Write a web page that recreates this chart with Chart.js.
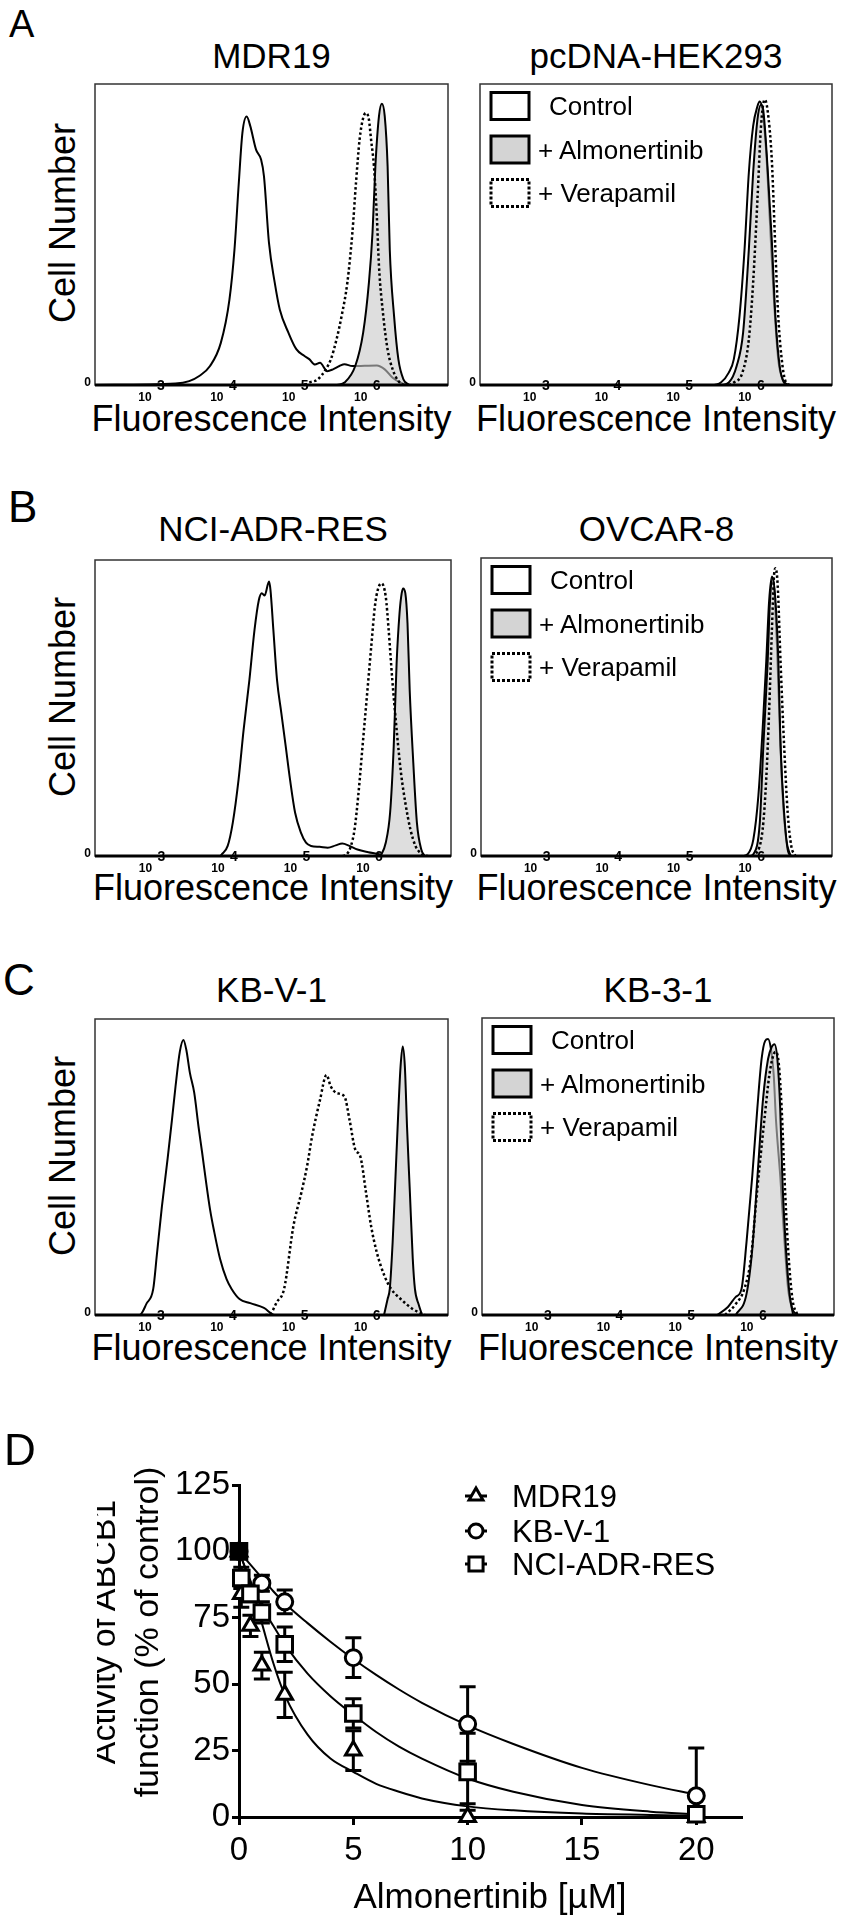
<!DOCTYPE html>
<html>
<head>
<meta charset="utf-8">
<script src="https://cdn.jsdelivr.net/npm/chart.js@4.4.0/dist/chart.umd.min.js"></script>
<style>
  body { margin: 0; background: #fff; }
  #page { position: relative; width: 844px; height: 1920px; overflow: hidden; background: #fff;
          font-family: "Liberation Sans", Arial, Helvetica, sans-serif; color: #000; }
  .txt { position: absolute; white-space: nowrap; line-height: 1; }
  canvas { position: absolute; }
</style>
</head>
<body>
<div id="page"></div>
<script>
// --- Histogram data: x = log10(fluorescence), y = cell number (% of frame height) ---
const mdr19CtrlX = [2.18, 3.30, 3.49, 3.63, 3.78, 3.93, 4.05, 4.12, 4.18, 4.23, 4.29, 4.34, 4.42, 4.49, 4.53, 4.60, 4.68, 4.75, 4.87, 4.98, 5.09, 5.16, 5.24, 5.31, 5.41, 5.49, 5.58, 5.65, 5.76, 6.10, 6.21, 6.32, 6.43, 6.55, 7.09];
const mdr19CtrlY = [0, 0.5, 1.3, 3.0, 6.3, 14.0, 28.4, 45.0, 67.1, 83.7, 89.2, 86.0, 78.2, 74.9, 69.4, 47.2, 34.0, 25.1, 17.4, 11.9, 9.7, 8.6, 6.8, 7.4, 4.6, 5.2, 6.3, 6.9, 6.3, 6.5, 5.2, 2.4, 0.8, 0, 0];
const mdr19AlmX = [5.55, 5.65, 5.80, 5.91, 5.99, 6.04, 6.08, 6.13, 6.17, 6.21, 6.25, 6.28, 6.34, 6.40, 6.47, 6.55];
const mdr19AlmY = [0, 0.8, 6.3, 17.4, 34.0, 50.6, 72.7, 89.3, 93.4, 89.3, 72.7, 45.0, 22.9, 8.5, 1.9, 0];
const mdr19VerX = [5.10, 5.16, 5.28, 5.39, 5.46, 5.54, 5.61, 5.69, 5.76, 5.81, 5.86, 5.91, 5.95, 5.99, 6.02, 6.06, 6.10, 6.13, 6.19, 6.25, 6.32, 6.40, 6.47];
const mdr19VerY = [0, 0.8, 1.9, 5.2, 8.5, 15.2, 22.9, 34.0, 50.6, 67.1, 81.5, 88.7, 90.4, 88.2, 81.5, 72.7, 56.1, 39.5, 22.9, 11.8, 5.2, 1.3, 0];

const hekCtrlX = [5.45, 5.54, 5.65, 5.72, 5.80, 5.87, 5.93, 5.99, 6.05, 6.08, 6.12, 6.17, 6.22, 6.28, 6.34, 6.40, 6.47];
const hekCtrlY = [0, 0.8, 4.1, 8.5, 22.9, 45.0, 70.5, 86.0, 92.6, 94.2, 91.5, 78.2, 56.1, 28.4, 8.5, 1.9, 0];
const hekAlmX = [5.55, 5.65, 5.76, 5.85, 5.93, 5.99, 6.05, 6.10, 6.13, 6.19, 6.25, 6.30, 6.36, 6.42, 6.47];
const hekAlmY = [0, 0.8, 6.3, 17.4, 45.0, 70.5, 88.2, 93.1, 91.5, 72.7, 48.3, 22.9, 6.3, 0.8, 0];
const hekVerX = [5.65, 5.72, 5.84, 5.93, 5.99, 6.05, 6.10, 6.15, 6.19, 6.25, 6.30, 6.34, 6.40, 6.45, 6.51];
const hekVerY = [0, 0.8, 4.1, 15.2, 34.0, 61.6, 86.0, 94.8, 91.5, 74.9, 45.0, 22.9, 6.3, 0.8, 0];

const nciCtrlX = [2.18, 3.90, 3.93, 4.01, 4.08, 4.16, 4.23, 4.31, 4.38, 4.44, 4.48, 4.52, 4.58, 4.60, 4.64, 4.69, 4.75, 4.81, 4.87, 4.94, 5.02, 5.09, 5.16, 5.28, 5.39, 5.50, 5.59, 5.69, 5.80, 5.95, 6.10, 6.17, 7.09];
const nciCtrlY = [0, 0, 0.6, 3.4, 11.2, 25.8, 42.7, 59.6, 76.4, 86.5, 88.8, 88.0, 92.7, 89.9, 76.4, 59.6, 48.3, 37.1, 25.8, 14.6, 7.9, 4.5, 3.4, 3.1, 2.8, 3.6, 4.2, 3.4, 2.2, 1.3, 0.6, 0, 0];
const nciAlmX = [6.10, 6.13, 6.19, 6.25, 6.30, 6.34, 6.38, 6.41, 6.43, 6.46, 6.49, 6.52, 6.57, 6.62, 6.68, 6.73];
const nciAlmY = [0, 0.6, 4.5, 14.6, 37.1, 65.2, 82.0, 88.8, 90.4, 88.8, 78.7, 56.2, 31.5, 11.2, 2.2, 0];
const nciVerX = [5.60, 5.65, 5.71, 5.76, 5.81, 5.87, 5.93, 5.99, 6.04, 6.08, 6.13, 6.19, 6.23, 6.28, 6.34, 6.40, 6.46, 6.53, 6.60, 6.69, 6.77];
const nciVerY = [0, 0.5, 3.4, 9.0, 20.2, 37.1, 53.9, 70.8, 84.3, 89.9, 92.1, 87.6, 76.4, 59.6, 42.7, 28.1, 18.0, 9.0, 3.4, 0.6, 0];

const ovcCtrlX = [5.85, 5.91, 5.99, 6.06, 6.12, 6.17, 6.21, 6.25, 6.28, 6.32, 6.36, 6.40, 6.45, 6.51];
const ovcCtrlY = [0, 0.6, 5.6, 20.2, 42.7, 65.2, 85.4, 93.8, 89.9, 70.8, 42.7, 20.2, 5.6, 0];
const ovcAlmX = [5.95, 5.99, 6.08, 6.13, 6.19, 6.22, 6.26, 6.30, 6.34, 6.37, 6.42, 6.47, 6.52];
const ovcAlmY = [0, 0.6, 11.2, 37.1, 65.2, 84.3, 93.3, 85.4, 65.2, 37.1, 14.6, 2.2, 0];
const ovcVerX = [5.97, 6.02, 6.12, 6.17, 6.21, 6.25, 6.28, 6.30, 6.33, 6.37, 6.42, 6.47, 6.52, 6.58];
const ovcVerY = [0, 0.6, 9.0, 25.8, 48.3, 76.4, 94.4, 96.6, 91.0, 65.2, 37.1, 14.6, 3.4, 0];

const kbvCtrlX = [2.18, 2.80, 2.90, 2.99, 3.04, 3.11, 3.19, 3.25, 3.30, 3.36, 3.41, 3.45, 3.50, 3.56, 3.62, 3.67, 3.72, 3.78, 3.84, 3.92, 4.01, 4.08, 4.19, 4.34, 4.53, 4.68, 7.09];
const kbvCtrlY = [0, 0, 4.0, 8.8, 20.2, 36.5, 52.8, 65.8, 77.2, 89.0, 92.9, 89.6, 81.8, 75.1, 63.6, 54.9, 45.8, 35.7, 27.9, 18.9, 12.1, 8.8, 5.4, 4.0, 2.4, 0, 0];
const kbvAlmX = [6.20, 6.25, 6.28, 6.32, 6.36, 6.40, 6.43, 6.46, 6.49, 6.52, 6.56, 6.60, 6.63, 6.68, 6.73];
const kbvAlmY = [0, 5.4, 8.8, 24.6, 46.9, 69.4, 83.9, 90.7, 83.9, 63.7, 41.3, 18.9, 8.8, 3.7, 0];
const kbvVerX = [4.55, 4.60, 4.71, 4.81, 4.94, 5.05, 5.13, 5.20, 5.31, 5.40, 5.46, 5.54, 5.65, 5.72, 5.80, 5.87, 5.95, 6.02, 6.10, 6.21, 6.30, 6.45, 6.60, 6.77];
const kbvVerY = [0, 0, 4.4, 8.8, 30.1, 41.3, 50.3, 60.4, 72.7, 81.1, 77.2, 75.0, 73.8, 66.0, 55.9, 53.6, 41.3, 30.1, 21.1, 13.0, 8.8, 5.0, 2.0, 0];

const kb3CtrlX = [5.46, 5.61, 5.72, 5.80, 5.87, 5.95, 6.02, 6.08, 6.13, 6.17, 6.21, 6.25, 6.28, 6.34, 6.40, 6.45, 6.51, 6.57];
const kb3CtrlY = [0, 2.7, 6.1, 8.8, 24.6, 46.8, 69.4, 86.2, 92.3, 92.9, 89.6, 80.5, 66.0, 46.8, 24.6, 8.8, 2.0, 0];
const kb3AlmX = [5.72, 5.87, 5.95, 6.02, 6.10, 6.17, 6.22, 6.26, 6.30, 6.34, 6.37, 6.42, 6.47, 6.52];
const kb3AlmY = [0, 7.1, 22.2, 45.8, 72.7, 86.2, 90.2, 91.2, 86.2, 69.4, 45.8, 22.2, 7.1, 0];
const kb3VerX = [5.57, 5.72, 5.84, 5.93, 6.02, 6.12, 6.19, 6.25, 6.28, 6.32, 6.36, 6.40, 6.45, 6.51, 6.58];
const kb3VerY = [0, 3.7, 8.8, 18.9, 42.4, 66.0, 81.1, 87.9, 88.6, 84.5, 69.4, 45.8, 22.2, 5.4, 0];

const decadeTicks = [3, 4, 5, 6];
const histLegend = ['Control', '+ Almonertinib', '+ Verapamil'];

// --- Panel D data ---
const concX = [0, 0.1, 0.5, 1, 2, 5, 10, 20];
const mdr19Act = [100, 84, 72, 57, 46, 25, 0, 0];
const mdr19Err = [0, 5, 4, 5, 8.5, 7.5, 5, 0];
const kbv1Act = [100, null, null, 88, 81, 60, 35, 8];
const kbv1Err = [0, 0, 0, 3, 4.5, 7.5, 14, 18];
const nciAct = [100, 90, 84, 77, 65, 39, 17, 1];
const nciErr = [0, 4, 3, 4, 6.5, 5.5, 14.5, 1];

const curveX = [0, 0.5, 1, 1.5, 2, 3, 4, 5, 6, 7, 8, 10, 12, 15, 18, 20];
const mdr19Fit = [100, 88, 73, 58, 46, 31, 22, 17, 12.5, 9.5, 7, 4, 2.5, 1.3, 0.8, 0.5];
const kbv1Fit = [100, 95, 90, 85, 80.5, 73, 66, 59.5, 53.5, 48, 43, 34.5, 27.5, 18.5, 12, 8.5];
const nciFit = [100, 89, 79, 72, 65, 54, 45.5, 38.5, 32, 26.5, 22, 14.5, 9.5, 4.5, 2, 1];

const xTicksD = [0, 5, 10, 15, 20];
const yTicksD = [0, 25, 50, 75, 100, 125];

const FONT = '"Liberation Sans", Arial, Helvetica, sans-serif';
const page = document.getElementById('page');

function pts(xs, ys) {
    return xs.map((x, i) => ({ x: x, y: ys[i] }));
}

function makeCanvas(left, top, w, h) {
    const c = document.createElement('canvas');
    c.width = w; c.height = h;
    c.style.left = left + 'px'; c.style.top = top + 'px';
    c.style.width = w + 'px'; c.style.height = h + 'px';
    page.appendChild(c);
    return c;
}

function addText(str, x, baseY, size, align, parent) {
    const d = document.createElement('div');
    d.className = 'txt';
    d.textContent = str;
    d.style.fontSize = size + 'px';
    d.style.top = (baseY - 0.8465 * size) + 'px';
    d.style.left = x + 'px';
    if (align === 'center') d.style.transform = 'translateX(-50%)';
    (parent || page).appendChild(d);
    return d;
}

// rotated text reading bottom to top; baseX = x of the baseline
function addVText(str, baseX, cy, size, parent) {
    const d = document.createElement('div');
    d.className = 'txt';
    d.textContent = str;
    d.style.fontSize = size + 'px';
    d.style.left = (baseX - 0.3465 * size) + 'px';
    d.style.top = cy + 'px';
    d.style.transform = 'translate(-50%, -50%) rotate(-90deg)';
    (parent || page).appendChild(d);
    return d;
}

// --- frame, log ticks and legend boxes for the histograms ---
const histFrame = {
    id: 'histFrame',
    afterDraw(chart, args, opts) {
        const { ctx, chartArea: a, scales: { x } } = chart;
        ctx.save();
        ctx.strokeStyle = '#333';
        ctx.lineWidth = 1.5;
        ctx.strokeRect(a.left, a.top, a.right - a.left, a.bottom - a.top);
        ctx.strokeStyle = '#000';
        ctx.lineWidth = 3;
        ctx.beginPath();
        ctx.moveTo(a.left, a.bottom);
        ctx.lineTo(a.right, a.bottom);
        ctx.stroke();

        ctx.fillStyle = '#000';
        ctx.textBaseline = 'alphabetic';
        ctx.font = 'bold 12px ' + FONT;
        ctx.textAlign = 'right';
        ctx.fillText('0', a.left - 4, a.bottom + 1);
        ctx.textAlign = 'center';
        decadeTicks.forEach(d => {
            const px = x.getPixelForValue(d);
            ctx.font = 'bold 12px ' + FONT;
            ctx.fillText('10', px - 9, a.bottom + 16);
            ctx.font = 'bold 14px ' + FONT;
            ctx.fillText(String(d), px + 7, a.bottom + 5);
        });

        if (opts.legend) {
            const lx = a.left + 11;
            [22, 65.5, 109].forEach((dy, i) => {
                const cy = a.top + dy;
                ctx.lineWidth = 3;
                ctx.strokeStyle = '#000';
                ctx.fillStyle = i === 1 ? '#d4d4d4' : '#fff';
                ctx.setLineDash(i === 2 ? [3, 2] : []);
                ctx.fillRect(lx, cy - 13.5, 38, 27);
                ctx.strokeRect(lx, cy - 13.5, 38, 27);
            });
            ctx.setLineDash([]);
        }
        ctx.restore();
    }
};

function histChart(box, ctrlX, ctrlY, almX, almY, verX, verY, withLegend) {
    const padL = 24, padT = 4, padR = 6, padB = 24;
    const cv = makeCanvas(box[0] - padL, box[1] - padT,
        box[2] - box[0] + padL + padR, box[3] - box[1] + padT + padB);
    new Chart(cv, {
        type: 'line',
        data: {
            datasets: [
                { label: histLegend[0], data: pts(ctrlX, ctrlY), borderColor: '#000', borderWidth: 2, fill: false, order: 2 },
                { label: histLegend[1], data: pts(almX, almY), borderColor: '#000', borderWidth: 2,
                  fill: 'origin', backgroundColor: 'rgba(200,200,200,0.6)', order: 1 },
                { label: histLegend[2], data: pts(verX, verY), borderColor: '#000', borderWidth: 2.5,
                  borderDash: [2.5, 2.5], fill: false, order: 0 }
            ]
        },
        options: {
            responsive: false,
            animation: false,
            devicePixelRatio: 1,
            layout: { padding: { left: padL, top: padT, right: padR, bottom: padB } },
            elements: { point: { radius: 0 }, line: { cubicInterpolationMode: 'monotone' } },
            scales: {
                x: { type: 'linear', min: 2.18, max: 7.09, display: false },
                y: { min: 0, max: 100, display: false }
            },
            plugins: { legend: { display: false }, tooltip: { enabled: false }, histFrame: { legend: withLegend } }
        },
        plugins: [histFrame]
    });
    if (withLegend) {
        const a = box[0];
        addText(histLegend[0], a + 69, box[1] + 22 + 9.3, 26);
        addText(histLegend[1], a + 58, box[1] + 65.5 + 9.3, 26);
        addText(histLegend[2], a + 58, box[1] + 109 + 9.3, 26);
    }
}

// --- Panels A-C ---
const rows = [
    { letter: 'A', letterX: 9, letterY: 37, letterSize: 38, titles: ['MDR19', 'pcDNA-HEK293'], titleY: 68,
      boxL: [95, 84, 448, 385], boxR: [480, 84, 832, 385], cellY: 223, fiY: 431 },
    { letter: 'B', letterX: 8, letterY: 522, letterSize: 44, titles: ['NCI-ADR-RES', 'OVCAR-8'], titleY: 541,
      boxL: [95, 560, 451, 856], boxR: [481, 558, 832, 856], cellY: 697, fiY: 900 },
    { letter: 'C', letterX: 3, letterY: 995, letterSize: 44, titles: ['KB-V-1', 'KB-3-1'], titleY: 1002,
      boxL: [95, 1019, 448, 1315], boxR: [482, 1018, 834, 1315], cellY: 1156, fiY: 1360 }
];

rows.forEach(r => {
    addText(r.letter, r.letterX, r.letterY, r.letterSize);
    addText(r.titles[0], (r.boxL[0] + r.boxL[2]) / 2, r.titleY, 35, 'center');
    addText(r.titles[1], (r.boxR[0] + r.boxR[2]) / 2, r.titleY, 35, 'center');
    addVText('Cell Number', 75, r.cellY, 36);
    addText('Fluorescence Intensity', (r.boxL[0] + r.boxL[2]) / 2, r.fiY, 36, 'center');
    addText('Fluorescence Intensity', (r.boxR[0] + r.boxR[2]) / 2, r.fiY, 36, 'center');
});

histChart(rows[0].boxL, mdr19CtrlX, mdr19CtrlY, mdr19AlmX, mdr19AlmY, mdr19VerX, mdr19VerY, false);
histChart(rows[0].boxR, hekCtrlX, hekCtrlY, hekAlmX, hekAlmY, hekVerX, hekVerY, true);
histChart(rows[1].boxL, nciCtrlX, nciCtrlY, nciAlmX, nciAlmY, nciVerX, nciVerY, false);
histChart(rows[1].boxR, ovcCtrlX, ovcCtrlY, ovcAlmX, ovcAlmY, ovcVerX, ovcVerY, true);
histChart(rows[2].boxL, kbvCtrlX, kbvCtrlY, kbvAlmX, kbvAlmY, kbvVerX, kbvVerY, false);
histChart(rows[2].boxR, kb3CtrlX, kb3CtrlY, kb3AlmX, kb3AlmY, kb3VerX, kb3VerY, true);

// --- Panel D ---
const seriesD = [
    { label: 'MDR19', act: mdr19Act, err: mdr19Err, fit: mdr19Fit, style: 'triangle', radius: 9 },
    { label: 'KB-V-1', act: kbv1Act, err: kbv1Err, fit: kbv1Fit, style: 'circle', radius: 8 },
    { label: 'NCI-ADR-RES', act: nciAct, err: nciErr, fit: nciFit, style: 'rect', radius: 11 }
];

const errorBars = {
    id: 'errorBars',
    beforeDatasetsDraw(chart) {
        const { ctx, scales: { x, y } } = chart;
        ctx.save();
        ctx.strokeStyle = '#000';
        ctx.lineWidth = 3;
        seriesD.forEach(s => {
            concX.forEach((c, i) => {
                const v = s.act[i], e = s.err[i];
                if (v === null || !e) return;
                const px = x.getPixelForValue(c);
                const top = y.getPixelForValue(v + e);
                const bot = y.getPixelForValue(Math.max(0, v - e));
                ctx.beginPath();
                ctx.moveTo(px, top); ctx.lineTo(px, bot);
                ctx.moveTo(px - 8, top); ctx.lineTo(px + 8, top);
                if (v - e > 0) { ctx.moveTo(px - 8, bot); ctx.lineTo(px + 8, bot); }
                ctx.stroke();
            });
        });
        ctx.restore();
    },
    afterDraw(chart) {
        // legend symbols
        const { ctx } = chart;
        ctx.save();
        ctx.strokeStyle = '#000';
        ctx.fillStyle = '#fff';
        ctx.lineWidth = 3;
        [116, 151, 184].forEach((ly, i) => {
            const s = seriesD[i];
            ctx.beginPath();
            ctx.moveTo(465, ly); ctx.lineTo(487, ly);
            ctx.stroke();
            Chart.helpers.drawPoint(ctx, { pointStyle: s.style, radius: s.radius - 1, rotation: 0, borderWidth: 3 }, 476, ly);
        });
        ctx.restore();
    }
};

const tickFont = { family: FONT, size: 33 };
const dCanvas = makeCanvas(0, 1380, 844, 540);
new Chart(dCanvas, {
    type: 'scatter',
    data: {
        datasets: [
            ...seriesD.map((s, k) => ({
                type: 'scatter', label: s.label, data: pts(concX, s.act),
                pointStyle: s.style, pointRadius: s.radius, pointBorderWidth: 3,
                pointBorderColor: '#000',
                // the overlapping markers at 0 µM print as one solid square
                pointBackgroundColor: c => (k === 2 && c.dataIndex === 0 ? '#000' : '#fff'),
                clip: false, order: 2 - k
            })),
            ...seriesD.map(s => ({
                type: 'line', label: s.label + ' fit', data: pts(curveX, s.fit),
                borderColor: '#000', borderWidth: 2, pointRadius: 0, fill: false,
                cubicInterpolationMode: 'monotone', order: 10
            }))
        ]
    },
    options: {
        responsive: false,
        animation: false,
        devicePixelRatio: 1,
        layout: { padding: { left: 0, top: 105, right: 102, bottom: 0 } },
        scales: {
            x: {
                type: 'linear', min: 0, max: 22,
                afterFit: s => { s.height = 103; },
                afterBuildTicks: s => { s.ticks = xTicksD.map(v => ({ value: v })); },
                ticks: { font: tickFont, color: '#000', padding: 6, maxRotation: 0 },
                grid: { drawOnChartArea: false, color: '#000', tickLength: 8, tickWidth: 3 },
                border: { color: '#000', width: 3 }
            },
            y: {
                min: 0, max: 125,
                afterFit: s => { s.width = 239; },
                afterBuildTicks: s => { s.ticks = yTicksD.map(v => ({ value: v })); },
                ticks: { font: tickFont, color: '#000', padding: 2 },
                grid: { drawOnChartArea: false, color: '#000', tickLength: 7, tickWidth: 3 },
                border: { color: '#000', width: 3 }
            }
        },
        plugins: { legend: { display: false }, tooltip: { enabled: false } }
    },
    plugins: [errorBars]
});

addText('D', 4, 1465, 44);
seriesD.forEach((s, i) => addText(s.label, 512, [1496, 1531, 1564][i] + 11, 31));
addText('Almonertinib [\u00b5M]', 490, 1908, 35, 'center');

// y title: first line is cut along its top edge, as in the original figure
const clipBox = document.createElement('div');
clipBox.style.cssText = 'position:absolute;left:97px;top:1380px;width:200px;height:540px;overflow:hidden;';
page.appendChild(clipBox);
addVText('Activity of ABCB1', 115 - 97, 1632 - 1380, 34, clipBox);
addVText('function (% of control)', 158, 1632, 34);
</script>
</body>
</html>
